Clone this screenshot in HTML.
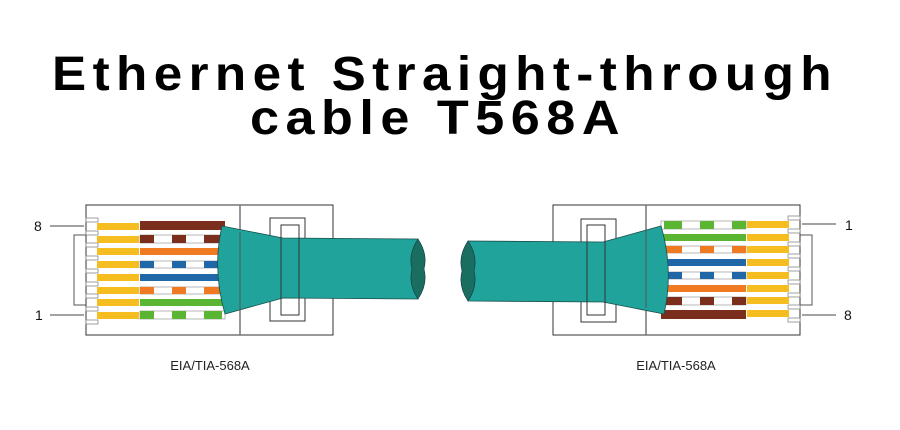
<!DOCTYPE html>
<html><head><meta charset="utf-8"><style>
html,body{margin:0;padding:0;background:#fff;}
svg{display:block}
</style></head><body>
<svg width="900" height="430" viewBox="0 0 900 430" xmlns="http://www.w3.org/2000/svg">
<defs>
<g id="conn">
  <rect x="86" y="205" width="247" height="130" fill="#fff" stroke="#333" stroke-width="1"/>
  <line x1="240" y1="205" x2="240" y2="335" stroke="#777" stroke-width="1.5"/>
  <polyline points="86,235 74,235 74,305 86,305" fill="none" stroke="#555" stroke-width="1"/>
  <g stroke="#888" stroke-width="0.8">
    <rect x="86" y="218" width="12" height="4" fill="#fff"/>
    <rect x="86" y="231" width="12" height="4" fill="#fff"/>
    <rect x="86" y="243" width="12" height="4" fill="#fff"/>
    <rect x="86" y="256" width="12" height="4" fill="#fff"/>
    <rect x="86" y="269" width="12" height="4" fill="#fff"/>
    <rect x="86" y="282" width="12" height="4" fill="#fff"/>
    <rect x="86" y="294" width="12" height="4" fill="#fff"/>
    <rect x="86" y="307" width="12" height="4" fill="#fff"/>
    <rect x="86" y="320" width="12" height="4" fill="#fff"/>
  </g>
  <g fill="#f5bd1f">
    <rect x="97" y="223" width="42" height="7"/>
    <rect x="97" y="236" width="42" height="7"/>
    <rect x="97" y="248" width="42" height="7"/>
    <rect x="97" y="261" width="42" height="7"/>
    <rect x="97" y="274" width="42" height="7"/>
    <rect x="97" y="287" width="42" height="7"/>
    <rect x="97" y="299" width="42" height="7"/>
    <rect x="97" y="312" width="42" height="7"/>
  </g>
  <rect x="140" y="221" width="85" height="9" fill="#7b2e1c"/>
  <rect x="140" y="235" width="85" height="8" fill="#fff" stroke="#888" stroke-width="0.6"/>
  <g fill="#7b2e1c"><rect x="140" y="235" width="14" height="8"/><rect x="172" y="235" width="14" height="8"/><rect x="204" y="235" width="18" height="8"/></g>
  <rect x="140" y="248" width="85" height="7" fill="#f07a22"/>
  <rect x="140" y="261" width="85" height="7" fill="#fff" stroke="#888" stroke-width="0.6"/>
  <g fill="#2067a8"><rect x="140" y="261" width="14" height="7"/><rect x="172" y="261" width="14" height="7"/><rect x="204" y="261" width="18" height="7"/></g>
  <rect x="140" y="274" width="85" height="7" fill="#2067a8"/>
  <rect x="140" y="287" width="85" height="7" fill="#fff" stroke="#888" stroke-width="0.6"/>
  <g fill="#f07a22"><rect x="140" y="287" width="14" height="7"/><rect x="172" y="287" width="14" height="7"/><rect x="204" y="287" width="18" height="7"/></g>
  <rect x="140" y="299" width="85" height="7" fill="#5ab532"/>
  <rect x="140" y="311" width="85" height="8" fill="#fff" stroke="#888" stroke-width="0.6"/>
  <g fill="#5ab532"><rect x="140" y="311" width="14" height="8"/><rect x="172" y="311" width="14" height="8"/><rect x="204" y="311" width="18" height="8"/></g>
  <rect x="270" y="218" width="35" height="103" fill="none" stroke="#333" stroke-width="1"/>
  <path d="M222,226 L283,238 L418,239 L418,299 L283,298 L225,314 Q212,270 222,226 Z" fill="#1fa39b" stroke="#1a4f4a" stroke-width="0.8"/>
  <line x1="240" y1="232" x2="240" y2="310" stroke="#555" stroke-width="1"/>
  <rect x="281" y="225" width="18" height="90" fill="none" stroke="#333" stroke-width="1"/>
  <path d="M418,239 Q408,254 412,269 Q408,284 418,299 Q428,284 424,269 Q428,254 418,239 Z" fill="#1a6e60" stroke="#134" stroke-width="0.6"/>
</g>
</defs>
<text x="445" y="90" text-anchor="middle" font-family="Liberation Sans, sans-serif" font-weight="bold" font-size="48" letter-spacing="6" textLength="786" lengthAdjust="spacingAndGlyphs" fill="#000">Ethernet Straight-through</text>
<text x="438" y="134" text-anchor="middle" font-family="Liberation Sans, sans-serif" font-weight="bold" font-size="48" letter-spacing="6" textLength="376" lengthAdjust="spacingAndGlyphs" fill="#000">cable T568A</text>
<use href="#conn"/>
<g transform="rotate(180 443 270)"><use href="#conn"/></g>
<g stroke="#444" stroke-width="1">
  <line x1="50" y1="226" x2="84" y2="226"/>
  <line x1="50" y1="315" x2="84" y2="315"/>
  <line x1="802" y1="224" x2="836" y2="224"/>
  <line x1="802" y1="315" x2="836" y2="315"/>
</g>
<g font-family="Liberation Sans, sans-serif" font-size="14" fill="#111">
  <text x="34" y="231">8</text>
  <text x="35" y="320">1</text>
  <text x="845" y="230">1</text>
  <text x="844" y="320">8</text>
</g>
<g font-family="Liberation Sans, sans-serif" font-size="13" fill="#222" text-anchor="middle">
  <text x="210" y="370">EIA/TIA-568A</text>
  <text x="676" y="370">EIA/TIA-568A</text>
</g>
</svg>
</body></html>
